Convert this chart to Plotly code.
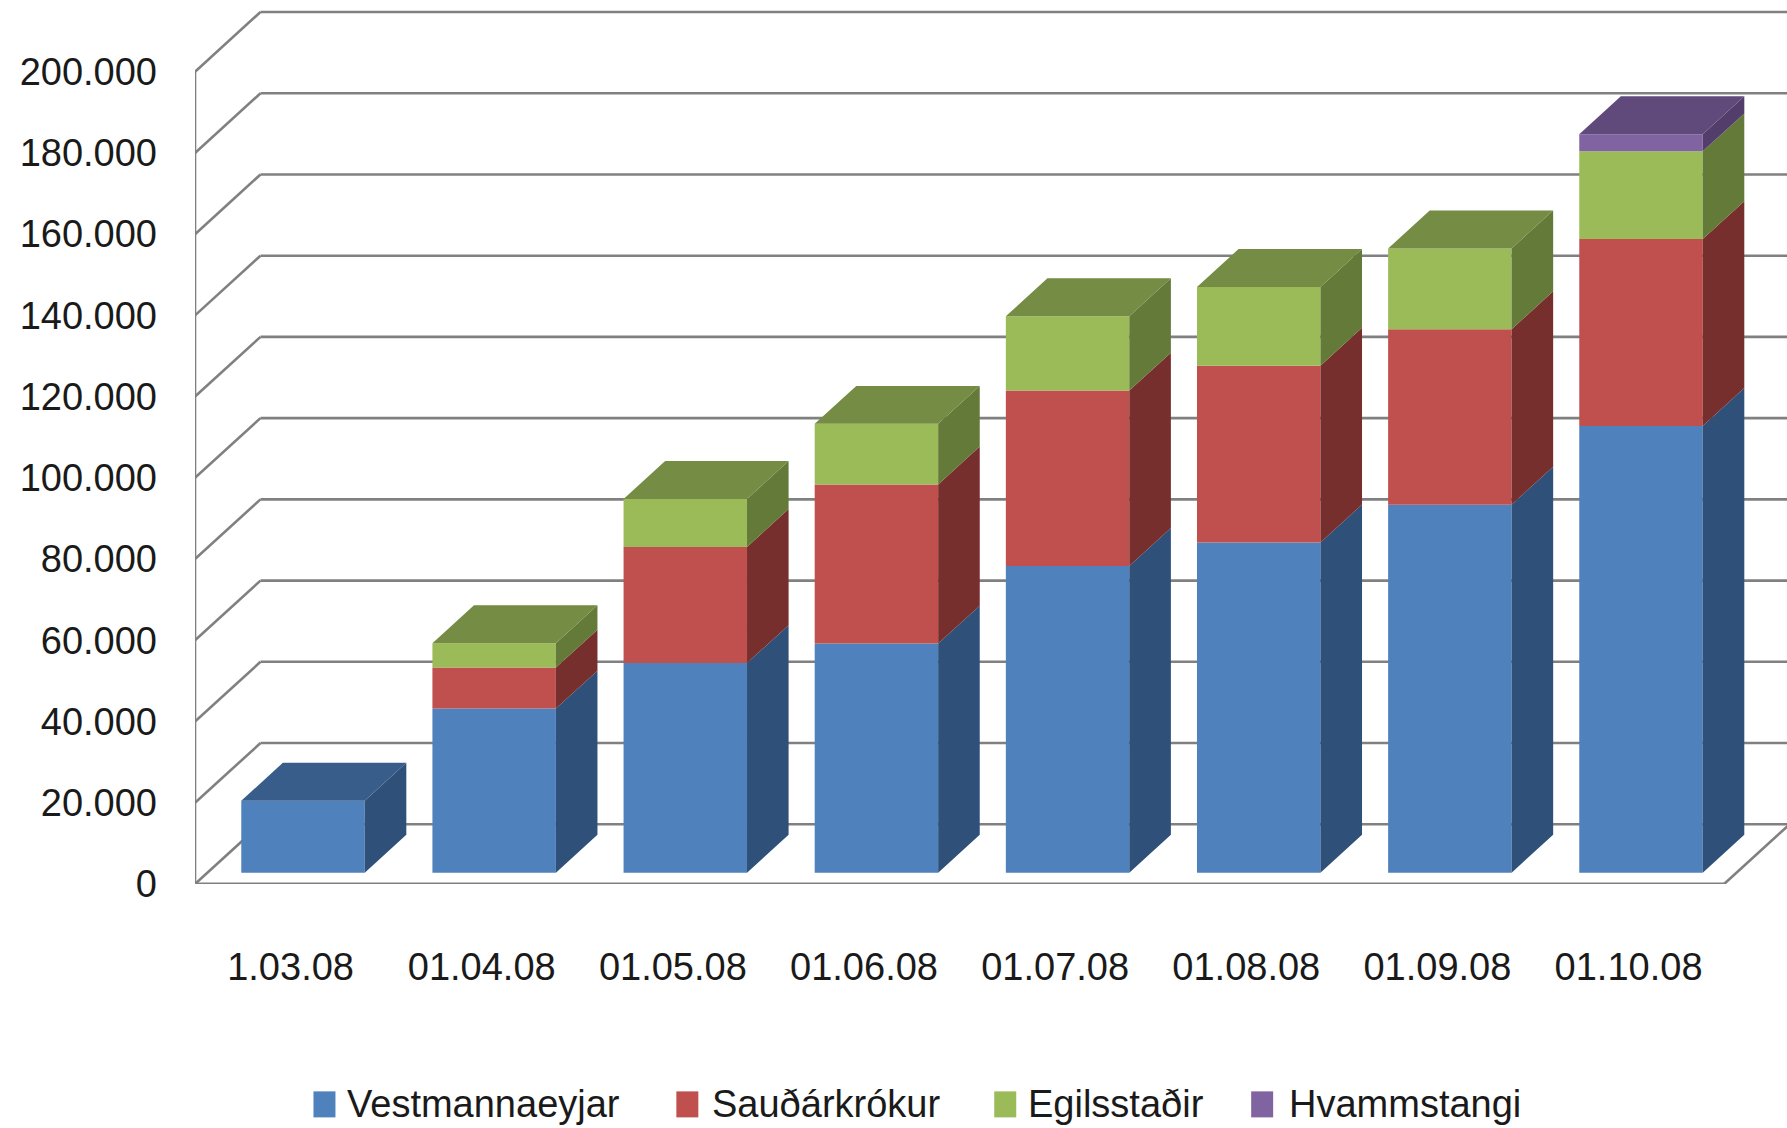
import plotly.graph_objects as go

# ---------- data (values use '.' as thousands separator in labels) ----------
categories = ["1.03.08", "01.04.08", "01.05.08", "01.06.08", "01.07.08", "01.08.08", "01.09.08", "01.10.08"]
vestmannaeyjar = [17700, 40400, 51600, 56400, 75500, 81300, 90600, 110000]
saudarkrokur = [0, 10100, 28600, 39200, 43200, 43500, 43200, 46000]
egilsstadir = [0, 6000, 11800, 14900, 18300, 19400, 19900, 21600]
hvammstangi = [0, 0, 0, 0, 0, 0, 0, 4200]
y_ticks = [0, 20000, 40000, 60000, 80000, 100000, 120000, 140000, 160000, 180000, 200000]
y_tick_labels = ["0", "20.000", "40.000", "60.000", "80.000", "100.000", "120.000", "140.000", "160.000", "180.000", "200.000"]

series = [
    ("Vestmannaeyjar", vestmannaeyjar, "#4F81BD", "#2F5179", "#385D8A"),
    ("Sauðárkrókur", saudarkrokur, "#C0504D", "#772F2D", "#953735"),
    ("Egilsstaðir", egilsstadir, "#9BBB59", "#647A39", "#748C43"),
    ("Hvammstangi", hvammstangi, "#8064A2", "#523D6B", "#604A7B"),
]

# ---------- page / projection ----------
W, H = 1787, 1128
LEFT, BOTTOM_Y = 194.5, 883.7
PX_CAT, PX_20K = 191.2, 81.2
X_MAX = (W - LEFT) / PX_CAT
Y_MAX = BOTTOM_Y / PX_20K * 20000
DX = 65.5 / PX_CAT          # full floor depth in x units
DY = 59.7 / PX_20K * 20000  # full floor depth in y units
D0, DD = 0.19, 0.635        # bar start / thickness as a share of the depth
BAR_W = 123.5 / PX_CAT
GRID = "#808080"
TEXT = "#1a1a1a"
FONT = "Liberation Sans"

fig = go.Figure()
n = len(categories)
base = [0] * n
for idx, (name, vals, col, side, top) in enumerate(series):
    tops = [b + v for b, v in zip(base, vals)]
    fig.add_trace(go.Bar(
        name=name,
        x=[i + 0.5 + D0 * DX for i in range(n)],
        y=vals,
        base=[b + D0 * DY for b in base],
        width=BAR_W,
        marker=dict(color=col, line=dict(width=0)),
        showlegend=False,
    ))
    # right-hand side faces
    sx, sy = [], []
    for i in range(n):
        if vals[i] <= 0:
            continue
        xr = i + 0.5 + D0 * DX + BAR_W / 2
        y0, y1 = base[i] + D0 * DY, tops[i] + D0 * DY
        sx += [xr, xr + DD * DX, xr + DD * DX, xr, xr, None]
        sy += [y0, y0 + DD * DY, y1 + DD * DY, y1, y0, None]
    fig.add_trace(go.Scatter(x=sx, y=sy, mode="lines", fill="toself", fillcolor=side,
                             line=dict(width=0, color=side), hoverinfo="skip", showlegend=False))
    # top faces: only where this series is the highest one of its stack
    tx, ty = [], []
    for i in range(n):
        above = sum(s[1][i] for s in series[idx + 1:])
        if vals[i] <= 0 or above > 0:
            continue
        xl = i + 0.5 + D0 * DX - BAR_W / 2
        xr = xl + BAR_W
        y1 = tops[i] + D0 * DY
        tx += [xl, xr, xr + DD * DX, xl + DD * DX, xl, None]
        ty += [y1, y1, y1 + DD * DY, y1 + DD * DY, y1, None]
    fig.add_trace(go.Scatter(x=tx, y=ty, mode="lines", fill="toself", fillcolor=top,
                             line=dict(width=0, color=top), hoverinfo="skip", showlegend=False))
    base = tops

# ---------- walls and floor ----------
def seg(x0, y0, x1, y1, w=2.6):
    return dict(type="line", xref="x", yref="y", x0=x0, y0=y0, x1=x1, y1=y1,
                layer="below", line=dict(color=GRID, width=w))

shapes = [seg(0, 0, 0, y_ticks[-1])]
for t in y_ticks:
    shapes.append(seg(0, t, DX, t + DY))
    shapes.append(seg(DX, t + DY, X_MAX, t + DY))
shapes.append(seg(0, 0, n, 0, 3.2))
shapes.append(seg(n, 0, n + DX, DY))

# ---------- custom legend (large swatches) ----------
swatch_left = [313, 676, 994, 1251]
text_left = [345, 710, 1026, 1287]
LEG_Y = 1104
def px(x):
    return (x - LEFT) / (W - LEFT)
def py(y):
    return (BOTTOM_Y - y) / BOTTOM_Y

annotations = []
for (name, _, col, _, _), sl, tl in zip(series, swatch_left, text_left):
    shapes.append(dict(type="rect", xref="paper", yref="paper", x0=px(sl), x1=px(sl + 22),
                       y0=py(LEG_Y - 13), y1=py(LEG_Y + 13), fillcolor=col, line=dict(width=0)))
    annotations.append(dict(xref="paper", yref="paper", x=px(tl), y=py(LEG_Y), text=name,
                            showarrow=False, xanchor="left", yanchor="middle",
                            font=dict(family=FONT, size=38, color=TEXT)))

fig.update_layout(
    width=W, height=H, autosize=False,
    margin=dict(l=LEFT, r=0, t=0, b=H - BOTTOM_Y, pad=0),
    paper_bgcolor="white", plot_bgcolor="white",
    barmode="overlay", showlegend=False,
    shapes=shapes, annotations=annotations,
    font=dict(family=FONT, size=38, color=TEXT),
    xaxis=dict(range=[0, X_MAX], tickvals=[i + 0.5 for i in range(n)], ticktext=categories,
               showgrid=False, zeroline=False, showline=False, ticks="",
               ticklabelstandoff=57, tickfont=dict(family=FONT, size=38, color=TEXT), fixedrange=True),
    yaxis=dict(range=[0, Y_MAX], tickvals=y_ticks, ticktext=y_tick_labels,
               showgrid=False, zeroline=False, showline=False, ticks="",
               ticklabelstandoff=37, tickfont=dict(family=FONT, size=38, color=TEXT), fixedrange=True),
)
fig.write_html("out.html", config={"displayModeBar": False},
               post_script="document.body.style.margin='0';document.body.style.overflow='hidden';")
